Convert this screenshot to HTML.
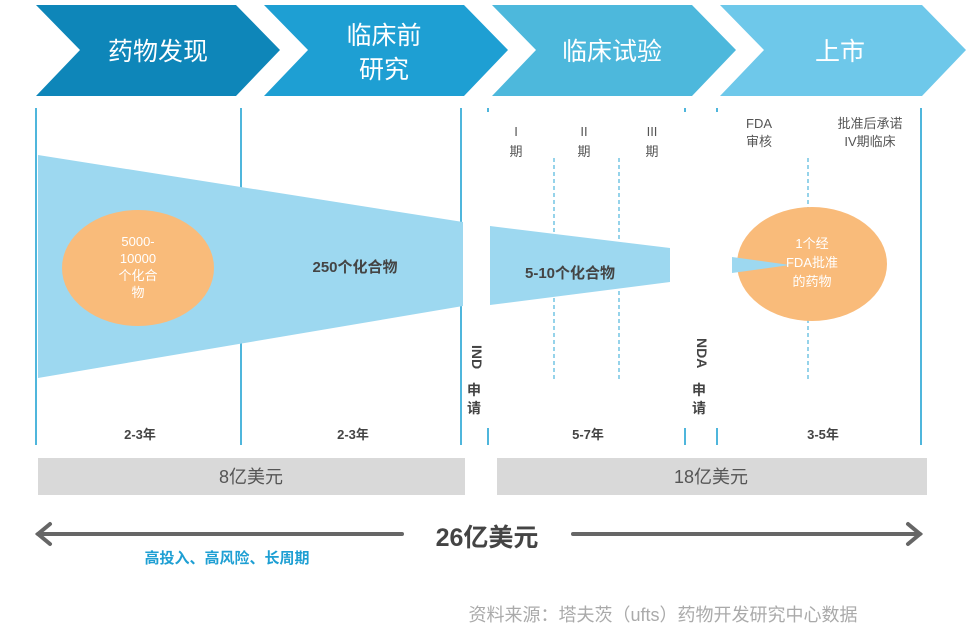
<!DOCTYPE html>
<html><head><meta charset="utf-8"><style>
html,body{margin:0;padding:0;background:#fff;width:972px;height:631px;overflow:hidden}
svg text{font-family:"Liberation Sans","Noto Sans CJK SC",sans-serif}
</style></head><body>
<svg width="972" height="631" viewBox="0 0 972 631" xmlns="http://www.w3.org/2000/svg">
<polygon points="36,5 236,5 280,50 236,96 36,96 80,50" fill="#0e86b9"/>
<polygon points="264,5 464,5 508,50 464,96 264,96 308,50" fill="#1e9fd3"/>
<polygon points="492,5 692,5 736,50 692,96 492,96 536,50" fill="#4db8dc"/>
<polygon points="720,5 922,5 966,50 922,96 720,96 764,50" fill="#6ec8ea"/>
<g fill="#fff" font-size="25" text-anchor="middle">
<text x="158" y="60">药物发现</text>
<text x="384" y="44">临床前</text>
<text x="384" y="78">研究</text>
<text x="612" y="60">临床试验</text>
<text x="840" y="60">上市</text>
</g>
<g stroke="#4fb6dc" stroke-width="2">
<line x1="36" y1="108" x2="36" y2="445"/>
<line x1="241" y1="108" x2="241" y2="445"/>
<line x1="461" y1="108" x2="461" y2="445"/>
<line x1="921" y1="108" x2="921" y2="445"/>
<line x1="488" y1="108" x2="488" y2="112"/><line x1="488" y1="428" x2="488" y2="445"/>
<line x1="685" y1="108" x2="685" y2="112"/><line x1="685" y1="428" x2="685" y2="445"/>
<line x1="717" y1="108" x2="717" y2="112"/><line x1="717" y1="428" x2="717" y2="445"/>
</g>
<g stroke="#4fb6dc" stroke-width="1.2" stroke-dasharray="4,3">
<line x1="554" y1="158" x2="554" y2="380"/>
<line x1="619" y1="158" x2="619" y2="380"/>
<line x1="808" y1="158" x2="808" y2="380"/>
</g>
<polygon points="38,155 463,222 463,306 38,378" fill="#9dd8f0"/>
<polygon points="490,226 670,248 670,282 490,305" fill="#9dd8f0"/>
<ellipse cx="138" cy="268" rx="76" ry="58" fill="#f9bb7a"/>
<ellipse cx="812" cy="264" rx="75" ry="57" fill="#f9bb7a"/>
<polygon points="732,257 790,265 732,273" fill="#9dd8f0"/>
<g fill="#fff" font-size="13" text-anchor="middle">
<text x="138" y="246">5000-</text><text x="138" y="263">10000</text><text x="138" y="280">个化合</text><text x="138" y="297">物</text>
<text x="812" y="248">1个经</text><text x="812" y="267">FDA批准</text><text x="812" y="286">的药物</text>
</g>
<g fill="#444" font-size="15" font-weight="bold" text-anchor="middle">
<text x="355" y="272">250个化合物</text>
<text x="570" y="278">5-10个化合物</text>
</g>
<g fill="#555" font-size="13" text-anchor="middle">
<text x="516" y="136">I</text><text x="516" y="156">期</text>
<text x="584" y="136">II</text><text x="584" y="156">期</text>
<text x="652" y="136">III</text><text x="652" y="156">期</text>
<text x="759" y="128">FDA</text><text x="759" y="146">审核</text>
<text x="870" y="128">批准后承诺</text><text x="870" y="146">IV期临床</text>
</g>
<g fill="#444" font-size="14" font-weight="bold">
<text transform="translate(472,345) rotate(90)">IND</text>
<text x="467" y="395">申</text><text x="467" y="413">请</text>
<text transform="translate(697,338) rotate(90)">NDA</text>
<text x="692" y="395">申</text><text x="692" y="413">请</text>
</g>
<g fill="#444" font-size="13" font-weight="bold" text-anchor="middle">
<text x="140" y="439">2-3年</text><text x="353" y="439">2-3年</text>
<text x="588" y="439">5-7年</text><text x="823" y="439">3-5年</text>
</g>
<rect x="38" y="458" width="427" height="37" fill="#d9d9d9"/>
<rect x="497" y="458" width="430" height="37" fill="#d9d9d9"/>
<g fill="#555" font-size="18" text-anchor="middle">
<text x="251" y="483">8亿美元</text><text x="711" y="483">18亿美元</text>
</g>
<g stroke="#666" stroke-width="4" fill="none" stroke-linecap="round">
<line x1="38" y1="534" x2="402" y2="534"/>
<line x1="573" y1="534" x2="920" y2="534"/>
<polyline points="50,524 38,534 50,544"/>
<polyline points="908,524 920,534 908,544"/>
</g>
<text x="487" y="546" fill="#444" font-size="25" font-weight="bold" text-anchor="middle">26亿美元</text>
<text x="227" y="563" fill="#1e9fd3" font-size="15" font-weight="bold" text-anchor="middle">高投入、高风险、长周期</text>
<text x="663" y="621" fill="#aaa" font-size="18" text-anchor="middle">资料来源：塔夫茨（ufts）药物开发研究中心数据</text>
</svg>
</body></html>
